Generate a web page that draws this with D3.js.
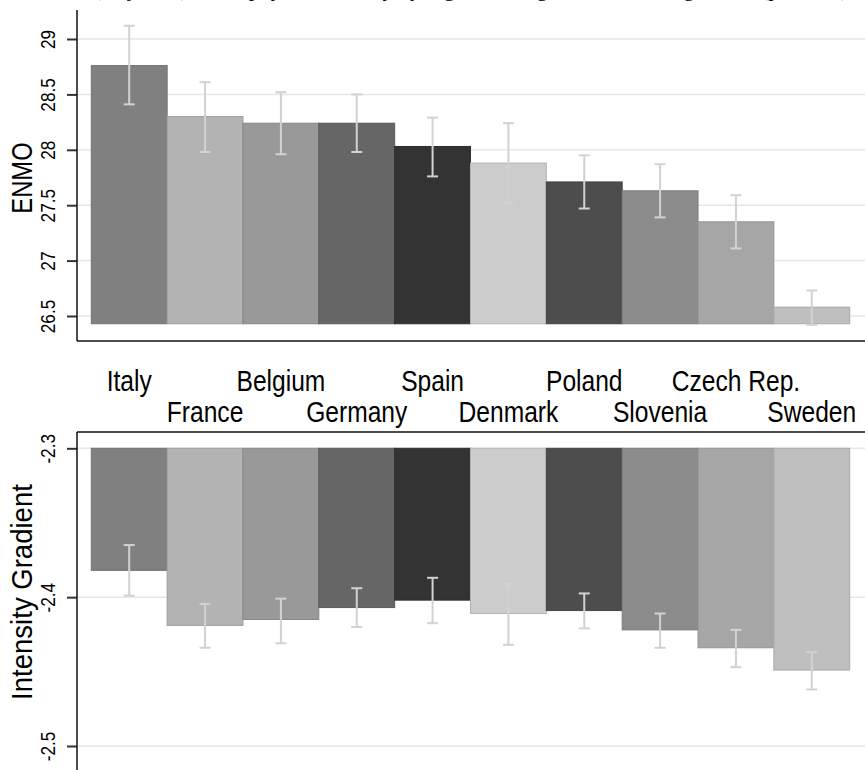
<!DOCTYPE html>
<html>
<head>
<meta charset="utf-8">
<script src="https://cdn.jsdelivr.net/npm/d3@7"></script>
<style>
  body { margin: 0; background: #fff; }
  svg { display: block; font-family: "Liberation Sans", Arial, sans-serif; }
</style>
</head>
<body>
<svg id="chart" width="865" height="770"></svg>
<script>
// data
const countries = ['Italy', 'France', 'Belgium', 'Germany', 'Spain', 'Denmark', 'Poland', 'Slovenia', 'Czech Rep.', 'Sweden'];
const barGrays = ['#808080', '#b3b3b3', '#999999', '#666666', '#333333', '#cccccc', '#4d4d4d', '#8c8c8c', '#a6a6a6', '#bfbfbf'];

const enmoMean = [28.76, 28.30, 28.24, 28.24, 28.03, 27.88, 27.71, 27.63, 27.35, 26.58];
const enmoLow  = [28.41, 27.98, 27.96, 27.98, 27.76, 27.52, 27.47, 27.39, 27.11, 26.42];
const enmoHigh = [29.12, 28.61, 28.52, 28.50, 28.29, 28.24, 27.95, 27.87, 27.59, 26.73];
const enmoBase = 26.43;
const enmoTicks = [26.5, 27, 27.5, 28, 28.5, 29];

const igMean = [-2.382, -2.419, -2.415, -2.407, -2.402, -2.411, -2.409, -2.422, -2.434, -2.449];
const igLow  = [-2.399, -2.434, -2.431, -2.420, -2.4175, -2.432, -2.421, -2.434, -2.447, -2.462];
const igHigh = [-2.365, -2.4045, -2.401, -2.394, -2.387, -2.391, -2.3975, -2.411, -2.422, -2.437];
const igBase = -2.3;
const igTicks = [-2.3, -2.4, -2.5];

const svg = d3.select('#chart');
const width = 865;
const narrow = 0.82; // stata's text is condensed

const axisX = 77;
const gridColor = '#e6e6e6';
const ciColor = '#d2d2d2';

const xScale = d3.scaleBand()
    .domain(countries)
    .range([91.3, 849.7])
    .padding(0);

const color = d3.scaleOrdinal()
    .domain(countries)
    .range(barGrays);

// title sits above the canvas, only its descenders peek in
svg.append('text')
    .attr('x', 471)
    .attr('y', -4)
    .attr('text-anchor', 'middle')
    .style('font-family', '"Liberation Serif", "Times New Roman", serif')
    .style('font-size', '22px')
    .text('(Adjusted) Mean physical activity by region of origin, ENMO and gradient (p<0.001)');

const panel = (opts) => {
    const g = svg.append('g');
    const y = opts.y;

    // grid
    g.append('g')
        .selectAll('line')
        .data(opts.ticks)
        .join('line')
        .attr('x1', axisX + 1)
        .attr('x2', width)
        .attr('y1', d => y(d))
        .attr('y2', d => y(d))
        .attr('stroke', gridColor)
        .attr('stroke-width', 1.5);

    const rows = countries.map((c, i) => ({
        key: c, mean: opts.mean[i], lo: opts.low[i], hi: opts.high[i]
    }));

    // bars
    g.append('g')
        .selectAll('rect')
        .data(rows)
        .join('rect')
        .attr('x', d => xScale(d.key))
        .attr('width', xScale.bandwidth())
        .attr('y', d => Math.min(y(d.mean), y(opts.base)))
        .attr('height', d => Math.abs(y(d.mean) - y(opts.base)))
        .attr('fill', d => color(d.key))
        .attr('stroke', d => d3.color(color(d.key)).darker(0.35))
        .attr('stroke-width', 1);

    // confidence intervals
    const ci = g.append('g')
        .attr('stroke', ciColor)
        .attr('stroke-width', 2);
    const cx = d => xScale(d.key) + xScale.bandwidth() / 2;
    ci.selectAll('.stem')
        .data(rows)
        .join('line')
        .attr('class', 'stem')
        .attr('x1', cx).attr('x2', cx)
        .attr('y1', d => y(d.lo)).attr('y2', d => y(d.hi));
    ci.selectAll('.cap')
        .data(rows.flatMap(d => [{ key: d.key, v: d.lo }, { key: d.key, v: d.hi }]))
        .join('line')
        .attr('class', 'cap')
        .attr('x1', d => cx(d) - 5.5).attr('x2', d => cx(d) + 5.5)
        .attr('y1', d => y(d.v)).attr('y2', d => y(d.v));

    // y axis
    const yAxis = d3.axisLeft(y)
        .tickValues(opts.ticks)
        .tickSize(10)
        .tickSizeOuter(0)
        .tickFormat(d => String(d));
    const ax = g.append('g')
        .attr('transform', `translate(${axisX},0)`)
        .call(yAxis);
    ax.select('.domain').remove();
    ax.selectAll('.tick line')
        .attr('stroke', '#333')
        .attr('stroke-width', 2);
    ax.selectAll('.tick text')
        .attr('x', null).attr('dy', null)
        .attr('transform', `translate(-22,0) rotate(-90) scale(${narrow},1)`)
        .attr('text-anchor', 'middle')
        .attr('fill', '#000')
        .style('font-size', '21px');

    g.append('line')
        .attr('x1', axisX).attr('x2', axisX)
        .attr('y1', opts.axisTop).attr('y2', opts.axisBottom)
        .attr('stroke', '#111').attr('stroke-width', 1.5);
    g.append('line')
        .attr('x1', axisX).attr('x2', width)
        .attr('y1', opts.frameY).attr('y2', opts.frameY)
        .attr('stroke', '#111').attr('stroke-width', 1.5);

    g.append('text')
        .attr('transform', `translate(32,${opts.titleY}) rotate(-90) scale(${opts.titleScale},1)`)
        .attr('text-anchor', 'middle')
        .style('font-size', '29px')
        .text(opts.title);

    return g;
};

const yEnmo = d3.scaleLinear()
    .domain([26.5, 29])
    .range([316, 39]);

panel({
    y: yEnmo, ticks: enmoTicks, base: enmoBase,
    mean: enmoMean, low: enmoLow, high: enmoHigh,
    axisTop: 10, axisBottom: 341, frameY: 341,
    title: 'ENMO', titleY: 178, titleScale: narrow
});

const yIg = d3.scaleLinear()
    .domain([-2.3, -2.5])
    .range([448.3, 746]);

panel({
    y: yIg, ticks: igTicks, base: igBase,
    mean: igMean, low: igLow, high: igHigh,
    axisTop: 432, axisBottom: 770, frameY: 432,
    title: 'Intensity Gradient', titleY: 592, titleScale: 0.95
});

// staggered country labels
svg.append('g')
    .selectAll('text')
    .data(countries)
    .join('text')
    .attr('transform', (d, i) => `translate(${xScale(d) + xScale.bandwidth() / 2},${i % 2 === 0 ? 391 : 422}) scale(${narrow},1)`)
    .attr('text-anchor', 'middle')
    .style('font-size', '30px')
    .text(d => d);
</script>
</body>
</html>
